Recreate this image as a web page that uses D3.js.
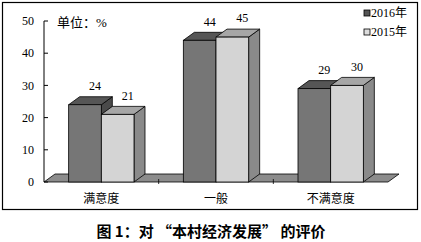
<!DOCTYPE html>
<html>
<head>
<meta charset="utf-8">
<script src="https://cdn.jsdelivr.net/npm/d3@7"></script>
<style>
  body { margin: 0; background: #fff; }
  svg { display: block; }
  text { font-family: "Liberation Serif", "Noto Sans CJK SC", serif; }
</style>
</head>
<body>
<svg id="chart" width="421" height="242"></svg>
<script>
var categories = ["满意度", "一般", "不满意度"],
    series = ["2016年", "2015年"],
    values2016 = [24, 44, 29],
    values2015 = [21, 45, 30],
    yTicks = [0, 10, 20, 30, 40, 50];

var svg = d3.select("#chart"),
    dx = 11, dy = -8; // 3d depth offset

var y = d3.scaleLinear().domain([0, 50]).range([182, 21]),
    x0 = d3.scaleBand().domain(categories).range([44, 388]).paddingInner(0).paddingOuter(0),
    x1 = d3.scaleBand().domain(series).range([0, x0.bandwidth()]).paddingOuter(0.755);

var faces = {
  "2016年": { front: "#767676", top: "#565656", side: "#4a4a4a" },
  "2015年": { front: "#d4d4d4", top: "#a6a6a6", side: "#8a8a8a" }
};

// frame
svg.append("rect")
  .attr("x", 2.5).attr("y", 2.5)
  .attr("width", 415).attr("height", 207)
  .attr("fill", "none").attr("stroke", "#000").attr("stroke-width", 1.2);

// floor
var fx0 = x0.range()[0], fx1 = x0.range()[1], fy = y(0);
svg.append("path")
  .attr("d", `M${fx0},${fy} L${fx1},${fy} L${fx1 + dx},${fy + dy} L${fx0 + dx},${fy + dy} Z`)
  .attr("fill", "#8c8c8c").attr("stroke", "#000").attr("stroke-width", 0.8);

// category separator ticks on the floor
svg.selectAll(".cat-tick")
  .data(categories.slice(1))
  .enter()
  .append("line")
  .attr("x1", d => x0(d)).attr("x2", d => x0(d))
  .attr("y1", fy - 3).attr("y2", fy + 2)
  .attr("stroke", "#000").attr("stroke-width", 0.8);

// y axis
svg.append("line")
  .attr("x1", fx0).attr("x2", fx0)
  .attr("y1", y(50)).attr("y2", y(0))
  .attr("stroke", "#000").attr("stroke-width", 1);

svg.selectAll(".y-tick")
  .data(yTicks)
  .enter()
  .append("line")
  .attr("x1", fx0).attr("x2", fx0 + 4)
  .attr("y1", d => y(d)).attr("y2", d => y(d))
  .attr("stroke", "#000").attr("stroke-width", 1);

svg.selectAll(".y-label")
  .data(yTicks)
  .enter()
  .append("text")
  .attr("x", 34).attr("y", d => y(d))
  .attr("dy", "0.35em")
  .attr("text-anchor", "end")
  .style("font-size", "12px")
  .text(d => d);

// bars
var bars = [];
categories.forEach((c, i) => {
  bars.push({ cat: c, s: "2016年", v: values2016[i] });
  bars.push({ cat: c, s: "2015年", v: values2015[i] });
});

var g = svg.append("g");
bars.forEach(d => {
  var left = x0(d.cat) + x1(d.s),
      right = left + x1.bandwidth(),
      top = y(d.v),
      bottom = y(0),
      col = faces[d.s];
  var bar = g.append("g").attr("class", "bar");
  // side
  bar.append("path")
    .attr("d", `M${right},${bottom} L${right + dx},${bottom + dy} L${right + dx},${top + dy} L${right},${top} Z`)
    .attr("fill", col.side).attr("stroke", "#000").attr("stroke-width", 0.8);
  // top
  bar.append("path")
    .attr("d", `M${left},${top} L${left + dx},${top + dy} L${right + dx},${top + dy} L${right},${top} Z`)
    .attr("fill", col.top).attr("stroke", "#000").attr("stroke-width", 0.8);
  // front
  bar.append("rect")
    .attr("x", left).attr("y", top)
    .attr("width", right - left).attr("height", bottom - top)
    .attr("fill", col.front).attr("stroke", "#000").attr("stroke-width", 0.8);
  // value label
  svg.append("text")
    .attr("x", (left + right) / 2 + 10)
    .attr("y", top - 19)
    .attr("dy", "0.35em")
    .attr("text-anchor", "middle")
    .style("font-size", "12px")
    .text(d.v);
});

// category labels
svg.selectAll(".x-label")
  .data(categories)
  .enter()
  .append("text")
  .attr("x", d => x0(d) + x0.bandwidth() / 2)
  .attr("y", 199)
  .attr("dy", "0.35em")
  .attr("text-anchor", "middle")
  .style("font-size", "12px")
  .text(d => d);

// unit
svg.append("text")
  .attr("x", 57).attr("y", 22)
  .attr("dy", "0.35em")
  .style("font-size", "13px")
  .text("单位：%");

// legend
var legend = svg.selectAll(".legend")
  .data(series)
  .enter()
  .append("g")
  .attr("transform", (d, i) => `translate(364, ${13 + i * 19})`);

legend.append("rect")
  .attr("x", 0).attr("y", -3)
  .attr("width", 6).attr("height", 6)
  .attr("fill", d => d === "2016年" ? "#555" : "#ddd")
  .attr("stroke", "#000").attr("stroke-width", 0.8);

legend.append("text")
  .attr("x", 7).attr("y", 0)
  .attr("dy", "0.35em")
  .style("font-size", "12px")
  .text(d => d);

// caption
svg.append("text")
  .attr("x", 211).attr("y", 232)
  .attr("dy", "0.35em")
  .attr("text-anchor", "middle")
  .style("font-family", "'Noto Sans CJK SC', sans-serif")
  .style("font-size", "15px")
  .style("font-weight", "bold")
  .text("图 1：对 “本村经济发展” 的评价");
</script>
</body>
</html>
